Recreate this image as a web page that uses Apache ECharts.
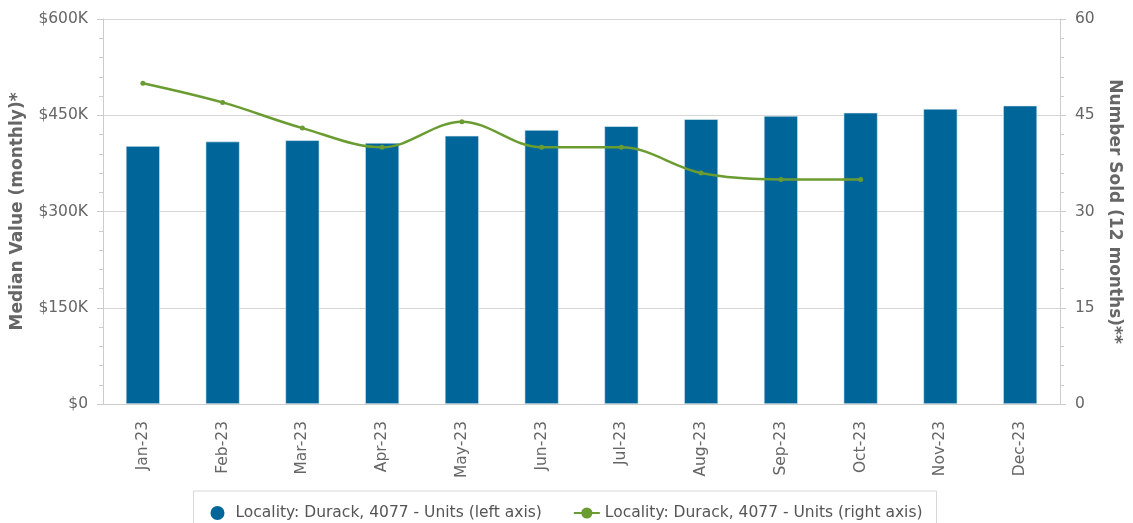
<!DOCTYPE html>
<html><head><meta charset="utf-8">
<script src="https://cdn.jsdelivr.net/npm/echarts@6/dist/echarts.min.js"></script>
<style>html,body{margin:0;padding:0;background:#fff}#c{width:1133px;height:523px}</style>
</head><body><div id="c"></div>
<script>
const categories = ['Jan-23','Feb-23','Mar-23','Apr-23','May-23','Jun-23','Jul-23','Aug-23','Sep-23','Oct-23','Nov-23','Dec-23'];
const medianValue = [402000, 409000, 411000, 407000, 418000, 427000, 433000, 444000, 449000, 454000, 460000, 465000];
const numberSold = [50, 47, 43, 40, 44, 40, 40, 36, 35, 35, null, null];
const barName = 'Locality: Durack, 4077 - Units (left axis)';
const lineName = 'Locality: Durack, 4077 - Units (right axis)';
const leftTitle = 'Median Value (monthly)*';
const rightTitle = 'Number Sold (12 months)**';

const font = 'DejaVu Sans';
const chart = echarts.init(document.getElementById('c'), null, {renderer:'canvas'});
chart.setOption({
  animation: false,
  textStyle: {fontFamily: font},
  grid: {left: 103, right: 73, top: 19, bottom: 119, containLabel: false, outerBoundsMode: 'none'},
  legend: {
    top: 491, left: 'center',
    borderColor: '#d8d8d8', borderWidth: 1, borderRadius: 0,
    padding: [14, 14, 14, 17], itemGap: 31,
    itemWidth: 26, itemHeight: 14,
    textStyle: {color: '#555', fontSize: 15.5, fontFamily: font},
    data: [{name: barName, icon: 'circle', itemStyle: {color: '#00669a', borderWidth: 0}}, {name: lineName}]
  },
  xAxis: {
    type: 'category', data: categories, boundaryGap: true,
    axisLine: {lineStyle: {color: '#ccc'}},
    axisTick: {alignWithLabel: true, length: 11, lineStyle: {color: '#ccd6eb'}},
    axisLabel: {rotate: 90, color: '#666', fontSize: 15.5, margin: 17}
  },
  yAxis: [{
    type: 'value', min: 0, max: 600000, interval: 150000,
    name: leftTitle, nameLocation: 'middle', nameGap: 77,
    nameTextStyle: {color: '#666', fontSize: 17, fontWeight: 'bold'},
    axisLine: {show: true, lineStyle: {color: '#ccc'}},
    axisTick: {show: true, length: 6, lineStyle: {color: '#ccc'}},
    minorTick: {show: true, splitNumber: 5, length: 4, lineStyle: {color: '#ccc'}},
    splitLine: {lineStyle: {color: '#d6d6d6'}},
    axisLabel: {color: '#666', fontSize: 15.5, margin: 15, formatter: v => v === 0 ? '$0' : '$' + (v/1000) + 'K'}
  }, {
    type: 'value', min: 0, max: 60, interval: 15, position: 'right',
    name: rightTitle, nameLocation: 'middle', nameGap: 46, nameRotate: -90,
    nameTextStyle: {color: '#666', fontSize: 17, fontWeight: 'bold'},
    axisLine: {show: true, lineStyle: {color: '#ccc'}},
    axisTick: {show: true, length: 6, lineStyle: {color: '#ccc'}},
    minorTick: {show: true, splitNumber: 5, length: 4, lineStyle: {color: '#ccc'}},
    splitLine: {show: false},
    axisLabel: {color: '#666', fontSize: 15.5, margin: 15}
  }],
  series: [{
    name: barName, type: 'bar', yAxisIndex: 0, data: medianValue, barWidth: 34,
    itemStyle: {color: '#00669a', borderColor: '#e6eef5', borderWidth: 0.6}
  }, {
    name: lineName, type: 'line', yAxisIndex: 1, data: numberSold, smooth: 0.35,
    symbol: 'circle', symbolSize: 5,
    lineStyle: {color: '#6a9c32', width: 2.5},
    itemStyle: {color: '#6a9c32'}
  }]
});
</script></body></html>
